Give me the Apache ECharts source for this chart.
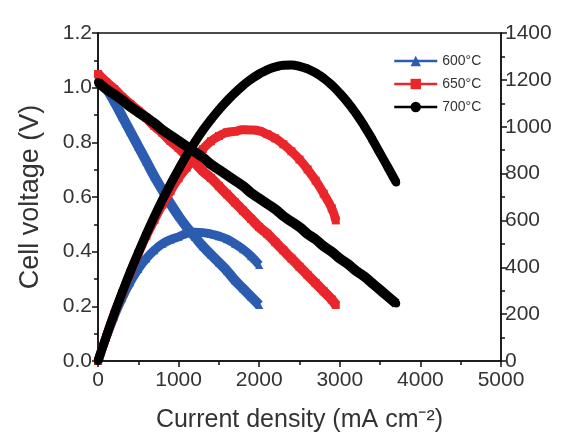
<!DOCTYPE html>
<html><head><meta charset="utf-8">
<script src="https://cdn.jsdelivr.net/npm/echarts@6/dist/echarts.min.js"></script>
<style>html,body{margin:0;padding:0;background:#fff}#c{width:563px;height:439px}</style>
</head><body><div id="c"></div>
<script>
const current600 = [0,100,200,300,400,500,600,700,800,900,1000,1100,1200,1300,1400,1500,1600,1700,1800,1900,2000];
const voltage600 = [1.05,1.00,0.95,0.895,0.84,0.785,0.73,0.675,0.625,0.575,0.53,0.49,0.455,0.42,0.39,0.36,0.33,0.295,0.265,0.235,0.205];
const power600 = [0,100,190,269,336,393,438,473,500,518,530,545,550,548,542,533,520,500,477,447,410];

const current650 = [0,100,200,300,400,500,600,700,800,900,1000,1100,1200,1300,1400,1500,1600,1700,1800,1900,2000,2100,2200,2300,2400,2500,2600,2700,2800,2900,2950];
const voltage650 = [1.05,1.02,0.995,0.965,0.94,0.915,0.89,0.86,0.835,0.805,0.78,0.75,0.725,0.695,0.67,0.64,0.61,0.58,0.55,0.52,0.49,0.465,0.435,0.405,0.375,0.345,0.315,0.285,0.255,0.225,0.205];
const power650 = [0,102,199,290,376,458,534,602,668,725,780,825,870,904,938,960,976,980,987,986,982,968,950,925,895,860,818,770,714,652,600];

const current700 = [0,100,200,300,400,500,600,700,800,900,1000,1100,1200,1300,1400,1500,1600,1700,1800,1900,2000,2100,2200,2300,2400,2500,2600,2700,2800,2900,3000,3100,3200,3300,3400,3500,3600,3700];
const voltage700 = [1.02,0.995,0.975,0.955,0.93,0.91,0.89,0.87,0.845,0.825,0.805,0.785,0.765,0.745,0.72,0.70,0.68,0.66,0.64,0.615,0.595,0.575,0.555,0.53,0.51,0.49,0.465,0.445,0.42,0.40,0.375,0.355,0.33,0.31,0.285,0.26,0.235,0.21];
const power700 = [0,102,200,292,380,462,542,617,688,755,818,878,933,984,1030,1072,1110,1145,1176,1203,1225,1243,1255,1262,1263,1258,1247,1230,1207,1178,1143,1103,1057,1005,948,886,825,762];

const names = ['600°C','650°C','700°C'];
const colors = ['#2b5caf','#e8262b','#000000'];
const symbols = ['triangle','rect','circle'];

function pairs(xs, ys){ return xs.map((x,i)=>[x, ys[i]]); }

const groups = [
  [current600, voltage600, power600],
  [current650, voltage650, power650],
  [current700, voltage700, power700]
];

const series = [];
groups.forEach((g, k) => {
  series.push({
    name: names[k], type: 'line', yAxisIndex: 0, data: pairs(g[0], g[1]),
    symbol: symbols[k], symbolSize: 8, smooth: true,
    lineStyle: {color: colors[k], width: 10}, itemStyle: {color: colors[k]},
    z: 3 + k
  });
  series.push({
    name: names[k], type: 'line', yAxisIndex: 1, data: pairs(g[0], g[2]),
    symbol: symbols[k], symbolSize: 8, smooth: true,
    lineStyle: {color: colors[k], width: 9}, itemStyle: {color: colors[k]},
    z: 3 + k
  });
});

const FF = 'Liberation Sans, Arial, sans-serif';
const axisFont = {fontFamily: FF, fontSize: 21, color: '#333'};
const chart = echarts.init(document.getElementById('c'), null, {renderer: 'canvas'});
chart.setOption({
  animation: false,
  backgroundColor: '#fff',
  grid: {left: 98, right: 62, top: 33, bottom: 78, show: true, borderColor: '#111', borderWidth: 1.5, backgroundColor: 'transparent'},
  legend: {
    data: names, orient: 'vertical', left: 388, top: 49, itemGap: 9,
    itemWidth: 43, itemHeight: 13,
    textStyle: {fontFamily: FF, fontSize: 14, color: '#333'},
    lineStyle: {width: 2.5}
  },
  xAxis: {
    type: 'value', min: 0, max: 5000, interval: 1000,
    name: 'Current density (mA cm⁻²)', nameLocation: 'middle', nameGap: 47,
    nameTextStyle: {fontFamily: FF, fontSize: 25, color: '#333'},
    axisLine: {lineStyle: {color: '#111', width: 1.5}},
    axisTick: {inside: false, length: 6, lineStyle: {color: '#111', width: 1.5}},
    minorTick: {show: true, splitNumber: 2, length: 4, lineStyle: {color: '#111', width: 1.5}},
    splitLine: {show: false},
    axisLabel: Object.assign({margin: 9, formatter: v => String(v)}, axisFont)
  },
  yAxis: [{
    type: 'value', min: 0, max: 1.2, interval: 0.2, position: 'left',
    name: 'Cell voltage (V)', nameLocation: 'middle', nameGap: 54, nameRotate: 90,
    nameTextStyle: {fontFamily: FF, fontSize: 27, color: '#333'},
    axisLine: {show: true, lineStyle: {color: '#111', width: 1.5}},
    axisTick: {show: true, length: 6, lineStyle: {color: '#111', width: 1.5}},
    minorTick: {show: true, splitNumber: 2, length: 4, lineStyle: {color: '#111', width: 1.5}},
    splitLine: {show: false},
    axisLabel: Object.assign({margin: 6, formatter: v => v.toFixed(1)}, axisFont)
  }, {
    type: 'value', min: 0, max: 1400, interval: 200, position: 'right',
    axisLine: {show: true, lineStyle: {color: '#111', width: 1.5}},
    axisTick: {show: true, length: 6, lineStyle: {color: '#111', width: 1.5}},
    minorTick: {show: true, splitNumber: 2, length: 4, lineStyle: {color: '#111', width: 1.5}},
    splitLine: {show: false},
    axisLabel: Object.assign({margin: 4, formatter: v => String(v)}, axisFont)
  }],
  series: series
});
</script>
</body></html>
